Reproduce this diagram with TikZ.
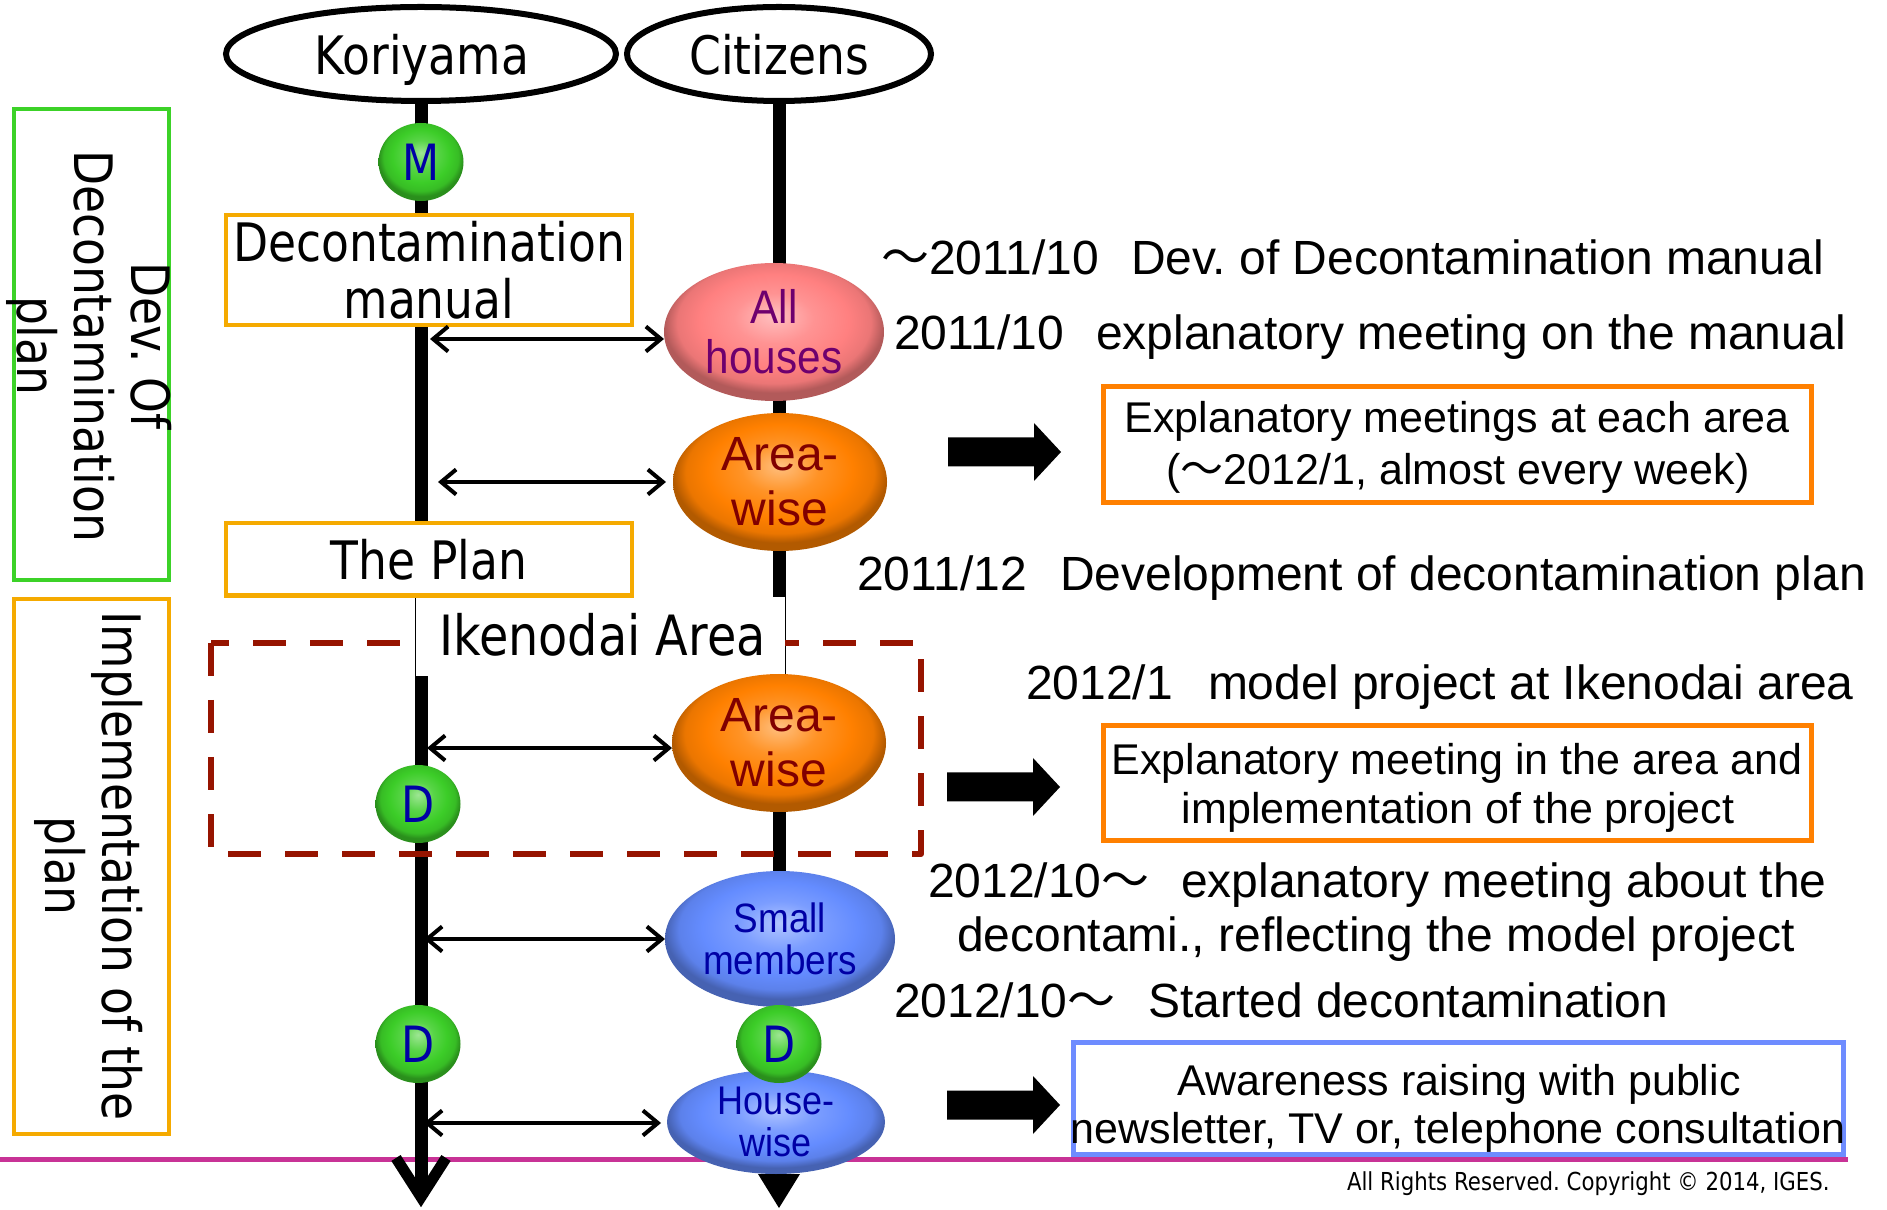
\documentclass[tikz,border=0pt]{standalone}
\usepackage{fontspec}
\setmainfont{Liberation Sans}
\newfontfamily\vfont[FakeStretch=0.86]{DejaVu Sans}
\newfontfamily\nfont[FakeStretch=0.9]{Liberation Sans}
\newfontfamily\cjk{Noto Sans CJK JP}
\usetikzlibrary{arrows.meta,shapes.geometric}
\definecolor{grn}{RGB}{60,205,40}
\definecolor{amber}{RGB}{245,170,0}
\definecolor{orng}{RGB}{255,128,0}
\definecolor{pinkb}{RGB}{255,128,128}
\definecolor{blueb}{RGB}{100,140,255}
\definecolor{boxblue}{RGB}{110,140,255}
\definecolor{dred}{RGB}{150,20,0}
\definecolor{mag}{RGB}{200,50,150}
\definecolor{txtpurple}{RGB}{110,0,110}
\definecolor{txtred}{RGB}{128,0,0}
\definecolor{txtblue}{RGB}{0,0,165}
\definecolor{leftgreen}{RGB}{60,210,40}
\colorlet{bubcol}{red}
\pgfdeclareradialshading[bubcol]{bubble}{\pgfpoint{0bp}{6bp}}{%
 color(0bp)=(bubcol!50!white); color(9bp)=(bubcol!85!white); color(17bp)=(bubcol);
 color(22bp)=(bubcol!92!black); color(25bp)=(bubcol!70!black); color(50bp)=(bubcol!70!black)}
\frenchspacing
\begin{document}
\begin{tikzpicture}[x=0.4pt,y=-0.4pt,
  every node/.style={inner sep=0pt, outer sep=0pt},
  vlbl/.style={font=\fontsize{21.2pt}{22.8pt}\vfont},
  rtxt/.style={anchor=base west, font=\fontsize{19.2pt}{22pt}\selectfont},
  btxt/.style={anchor=base, font=\fontsize{17.2pt}{20pt}\selectfont},
  hdell/.style={ellipse, draw, line width=2.4pt},
  lifeln/.style={line width=5.2pt},
  framebox/.style={draw=amber, line width=1.8pt, fill=white},
  mybub/.style={ellipse, /utils/exec={\colorlet{bubcol}{#1}}, shade, shading=bubble},
  myball/.style={mybub=grn, minimum width=34pt, minimum height=31.2pt, text=txtblue, font=\fontsize{20pt}{20pt}\vfont},
  dblarr/.style={{Straight Barb[length=6pt,width=10pt]}-{Straight Barb[length=6pt,width=10pt]}, line width=1.6pt},
  blkarrow/.pic={\fill (0,-14.5) -- (86,-14.5) -- (86,-29) -- (113,0) -- (86,29) -- (86,14.5) -- (0,14.5) -- cycle;}
]
\fill[white] (0,0) rectangle (1887,1210);
\useasboundingbox (0,0) rectangle (1887,1210);

% magenta rule
\coordinate (mL) at (0,1159);
\coordinate (mR) at (1848,1159);
\draw[mag, line width=2pt] (mL) -- (mR);

% headers
\node[hdell, minimum width=156pt, minimum height=37.6pt] (ko) at (421,54) {};
\node[hdell, minimum width=121.6pt, minimum height=37.6pt] (ci) at (779,54) {};
\node[vlbl, anchor=base] (kot) at (422,75) {Koriyama};
\node[vlbl, anchor=base] (cit) at (779,75) {Citizens};

% lifelines
\coordinate (kend) at (421,1197);
\coordinate (kvl) at (396,1158);
\coordinate (kvr) at (446,1158);
\coordinate (cend) at (779,1176);
\coordinate (ctip) at (779,1208);
\coordinate (cl) at (758,1174);
\coordinate (cr) at (800,1174);
\draw[lifeln] (ko.south) -- (kend);
\draw[line width=4.4pt, miter limit=10] (kvl) -- (kend) -- (kvr);
\draw[lifeln] (ci.south) -- (cend);
\fill (cl) -- (ctip) -- (cr) -- cycle;

% dashed area
\draw[dred, line width=2.4pt, dash pattern=on 13.2pt off 9.6pt, line join=round] (211,643) rectangle (921,854);
\fill[white] (415.5,597) rectangle (784.5,676);
\node[anchor=base west, font=\fontsize{22.2pt}{24pt}\vfont] (ik) at (439,656) {Ikenodai Area};

% boxes on Koriyama line
\node[framebox, minimum width=162.4pt, minimum height=44pt] (dm) at (429,270) {};
\node[vlbl, align=center] (dmt) at (429,270) {Decontamination\\manual};
\node[framebox, minimum width=162.4pt, minimum height=29pt] (tp) at (429,559.5) {};
\node[vlbl, anchor=base] (tpt) at (429,580) {The Plan};

% bubbles
\node[mybub=pinkb, minimum width=88pt, minimum height=55.2pt] (ah) at (774,332) {};
\node[font=\fontsize{18.8pt}{20pt}\nfont, text=txtpurple, align=center] (aht) at (774,332) {All\\houses};
\node[mybub=orng, minimum width=85.6pt, minimum height=55.2pt] (aw1) at (780,482) {};
\node[font=\fontsize{19.2pt}{22pt}\selectfont, text=txtred, align=center] (aw1t) at (780,482) {Area-\\wise};
\node[mybub=orng, minimum width=85.6pt, minimum height=55.2pt] (aw2) at (779,743) {};
\node[font=\fontsize{19.2pt}{22pt}\selectfont, text=txtred, align=center] (aw2t) at (779,743) {Area-\\wise};
\node[mybub=blueb, minimum width=92pt, minimum height=54.4pt] (sm) at (780,939) {};
\node[font=\fontsize{16.4pt}{16.8pt}\nfont, text=txtblue, align=center] (smt) at (780,939) {Small\\members};
\node[mybub=blueb, minimum width=87.2pt, minimum height=41.6pt] (hw) at (776,1122) {};
\node[font=\fontsize{16pt}{16.8pt}\nfont, text=txtblue, align=center] (hwt) at (776,1122) {House-\\wise};

% balls
\node[myball] (m1) at (421,162) {M};
\node[myball] (d1) at (418,804) {D};
\node[myball] (d2) at (418,1044) {D};
\node[myball] (d3) at (779,1044) {D};

% double arrows
\coordinate (k1) at (430,339);
\coordinate (k2) at (438,482);
\coordinate (k3) at (427,748);
\coordinate (k4) at (424,939);
\coordinate (k5) at (424,1123);
\draw[dblarr] (k1) -- (ah.west |- k1);
\draw[dblarr, shorten >=2.8pt] (k2) -- (aw1.west |- k2);
\draw[dblarr] (k3) -- (aw2.west |- k3);
\draw[dblarr] (k4) -- (sm.west |- k4);
\draw[dblarr, shorten >=2.4pt] (k5) -- (hw.west |- k5);

% right-hand texts
\node[rtxt] (t1d) at (881,275) {{\cjk ～}2011/10};
\node[rtxt] (t1) at (1131,275) {Dev. of Decontamination manual};
\node[rtxt] (t2d) at (894,350) {2011/10};
\node[rtxt] (t2) at (1096,350) {explanatory meeting on the manual};
\node[rtxt] (t3d) at (857,591) {2011/12};
\node[rtxt] (t3) at (1060,591) {Development of decontamination plan};
\node[rtxt] (t4d) at (1026,700) {2012/1};
\node[rtxt] (t4) at (1208,700) {model project at Ikenodai area};
\node[rtxt] (t5d) at (928,897) {2012/10{\cjk ～}};
\node[rtxt] (t5) at (1181,897) {explanatory meeting about the};
\node[rtxt, anchor=base] (t5b) at (1376,952) {decontami., reflecting the model project};
\node[rtxt] (t6d) at (894,1017) {2012/10{\cjk ～}};
\node[rtxt] (t6) at (1148,1017) {Started decontamination};

% right boxes
\node[draw=orng, line width=2pt, fill=white, minimum width=283.2pt, minimum height=46.4pt] (b1) at (1457.5,444.5) {};
\node[btxt] (b1a) at (1457,433) {Explanatory meetings at each area};
\node[btxt] (b1b) at (1458,485) {({\cjk ～}2012/1, almost every week)};
\node[draw=orng, line width=2pt, fill=white, minimum width=283.2pt, minimum height=46pt] (b2) at (1457.5,783) {};
\node[btxt] (b2a) at (1457,775) {Explanatory meeting in the area and};
\node[btxt] (b2b) at (1458,824) {implementation of the project};
\node[draw=boxblue, line width=2pt, fill=white, minimum width=308pt, minimum height=44.8pt] (b3) at (1458.5,1098.5) {};
\node[btxt] (b3a) at (1459,1095) {Awareness raising with public};
\node[btxt] (b3b) at (1458,1143) {newsletter, TV or, telephone consultation};

% block arrows
\pic at (948,452) {blkarrow};
\pic at (947,787) {blkarrow};
\pic at (947,1105) {blkarrow};

% left phase boxes
\node[draw=leftgreen, line width=1.6pt, minimum width=62pt, minimum height=188.4pt] (lg) at (91.5,344.5) {};
\node[vlbl, rotate=-90, align=center] (lgt) at (89,346) {Dev. Of\\Decontamination\\plan};
\node[draw=amber, line width=1.6pt, minimum width=62pt, minimum height=214pt] (li) at (91.5,866.5) {};
\node[vlbl, rotate=-90, align=center] (lit) at (89,866) {Implementation of the\\plan};

% copyright
\node[anchor=base west, font=\fontsize{9.9pt}{11pt}\vfont] (cp) at (1347,1190) {All Rights Reserved. Copyright © 2014, IGES.};
\end{tikzpicture}
\end{document}
